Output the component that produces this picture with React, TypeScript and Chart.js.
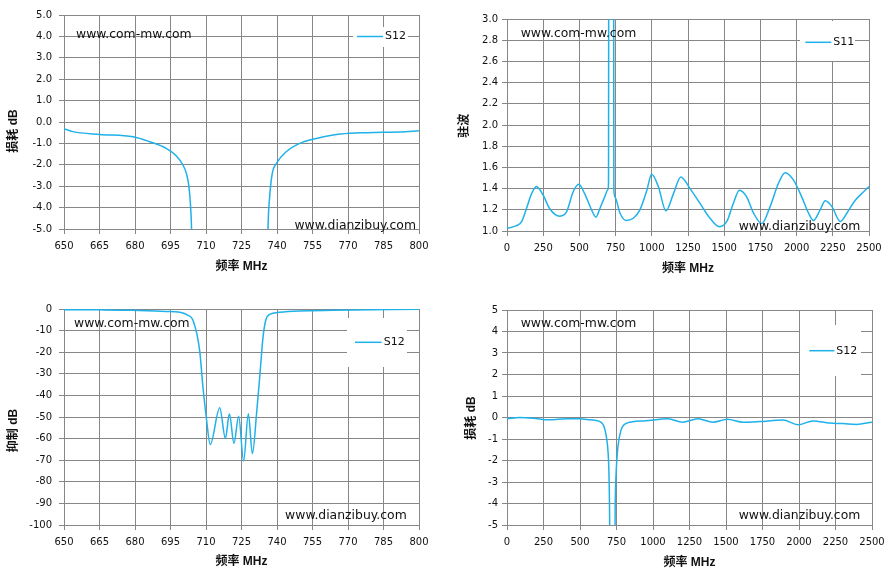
import React, { useRef, useEffect } from 'react';
import { Chart, registerables } from 'chart.js';

Chart.register(...registerables);

const FONT = '"DejaVu Sans", "Noto Sans CJK SC", sans-serif';
const TITLE_FONT = '"Liberation Sans", "Noto Sans CJK SC", sans-serif';
const LINE = '#1fb1ea';
const GRID = '#878787';
const INK = '#111';

const SITE_A = 'www.com-mw.com';
const SITE_B = 'www.dianzibuy.com';
const X_TITLE = '频率 MHz';

// top left: passband loss, 650-800 MHz (values past -5 run off the axis)
const lossFreq = [650, 653.8, 665.1, 679.2, 686.2, 693.2, 697.5, 700.3, 701.7, 702.8, 703.5, 703.9, 704.3,
  735.8, 736.2, 736.9, 738.0, 739.7, 743.9, 749.6, 756.6, 763.7, 770.7, 777.7, 784.8, 791.8, 800];
const lossDb = [-0.31, -0.45, -0.58, -0.69, -0.92, -1.23, -1.59, -2.02, -2.4, -3.03, -3.97, -5.03, -8,
  -8, -5.0, -3.5, -2.4, -1.94, -1.39, -1.0, -0.77, -0.61, -0.53, -0.5, -0.48, -0.47, -0.41];

// top right: VSWR, 0-2500 MHz (spike past 3.0 around the stop band)
const vswrFreq = [0, 65, 100, 134, 169, 203, 249, 295, 365, 411, 457, 496, 537, 584, 614, 641, 674, 697, 701, 703,
  736, 738, 745, 780, 821, 872, 918, 965, 999, 1045, 1098, 1149, 1200, 1264, 1333, 1402, 1467, 1518, 1563, 1605,
  1656, 1702, 1760, 1817, 1875, 1921, 1979, 2036, 2082, 2117, 2163, 2198, 2244, 2302, 2348, 2405, 2463, 2500];
const vswr = [1.025, 1.05, 1.087, 1.21, 1.35, 1.42, 1.34, 1.21, 1.14, 1.18, 1.37, 1.44, 1.35, 1.2, 1.13, 1.21, 1.32, 1.39, 1.45, 4,
  4, 1.4, 1.32, 1.17, 1.1, 1.12, 1.2, 1.38, 1.535, 1.42, 1.19, 1.35, 1.51, 1.4, 1.26, 1.12, 1.04, 1.09, 1.26, 1.385,
  1.32, 1.17, 1.07, 1.23, 1.45, 1.55, 1.48, 1.32, 1.17, 1.1, 1.2, 1.285, 1.23, 1.09, 1.17, 1.29, 1.37, 1.42];

// bottom left: rejection, 650-800 MHz
const rejFreq = [650, 665, 679, 693, 699, 702.4, 704.5, 707.3, 708.7, 710.1, 711.8, 715.8, 718.2, 719.9,
  721.8, 723.8, 725.9, 727.9, 729.6, 731.4, 732.7, 734.1, 735.3, 736.9, 741.1, 749.6, 763.7, 800];
const rejDb = [-0.3, -0.4, -0.6, -1.1, -1.5, -2.9, -5.2, -19, -36, -50, -62.7, -45.7, -59.9, -48.5,
  -62.3, -49.7, -70.4, -48.5, -67, -48, -31.5, -13, -5, -2.5, -1.5, -0.9, -0.6, -0.15];

// bottom right: wideband loss, 0-2500 MHz
const thruFreq = [0, 87, 178, 292, 407, 498, 566, 630, 648, 662, 672, 682, 691, 698, 702, 705.5, 738, 741, 746, 752, 760,
  780, 800, 830, 859, 950, 1103, 1201, 1308, 1411, 1509, 1617, 1731, 1890, 1993, 2096, 2210, 2301, 2393, 2500];
const thruDb = [-0.06, 0, -0.03, -0.11, -0.06, -0.06, -0.11, -0.17, -0.24, -0.38, -0.6, -0.95, -1.5, -2.5, -4, -7, -7, -4.2, -2.8, -2.0, -1.35,
  -0.6, -0.35, -0.24, -0.2, -0.15, -0.06, -0.22, -0.06, -0.22, -0.08, -0.22, -0.19, -0.12, -0.34, -0.16, -0.26, -0.28, -0.32, -0.22];

interface Spec {
  left: number; top: number; width: number; height: number;
  freq: number[]; values: number[]; name: string;
  xMin: number; xMax: number; xStep: number;
  yMin: number; yMax: number; yStep: number; decimals: number;
  yTitle: string;
  padTop: number; padRight: number; yWidth: number; xHeight: number;
  yTickPad: number; xTitlePad: number;
  yTitleAt: [number, number];
  siteA: [number, number]; siteB: [number, number];
  box: [number, number, number, number];
  key: [number, number, number];
}

const panels: Spec[] = [
  {
    left: 0, top: 0, width: 448, height: 290,
    freq: lossFreq, values: lossDb, name: 'S12',
    xMin: 650, xMax: 800, xStep: 15, yMin: -5, yMax: 5, yStep: 1, decimals: 1,
    yTitle: '损耗 dB',
    padTop: 15, padRight: 29, yWidth: 64, xHeight: 61,
    yTickPad: 7, xTitlePad: 16,
    yTitleAt: [13.5, 131],
    siteA: [76, 38], siteB: [416, 229],
    box: [353, 27, 55, 20], key: [357, 383, 36.5],
  },
  {
    left: 448, top: 0, width: 448, height: 290,
    freq: vswrFreq, values: vswr, name: 'S11',
    xMin: 0, xMax: 2500, xStep: 250, yMin: 1, yMax: 3, yStep: 0.2, decimals: 1,
    yTitle: '驻波',
    padTop: 19, padRight: 27, yWidth: 59, xHeight: 59,
    yTickPad: 4, xTitlePad: 14,
    yTitleAt: [16.7, 125.7],
    siteA: [72.7, 37.3], siteB: [412.3, 229.5],
    box: [352, 21, 55, 40], key: [357.3, 383.3, 42.3],
  },
  {
    left: 0, top: 290, width: 448, height: 291,
    freq: rejFreq, values: rejDb, name: 'S12',
    xMin: 650, xMax: 800, xStep: 15, yMin: -100, yMax: 0, yStep: 10, decimals: 0,
    yTitle: '抑制 dB',
    padTop: 19, padRight: 29, yWidth: 64, xHeight: 56,
    yTickPad: 7, xTitlePad: 12,
    yTitleAt: [14, 140.5],
    siteA: [74, 36.7], siteB: [406.7, 229.3],
    box: [347, 28, 60, 49], key: [355, 381.7, 52.3],
  },
  {
    left: 448, top: 290, width: 448, height: 291,
    freq: thruFreq, values: thruDb, name: 'S12',
    xMin: 0, xMax: 2500, xStep: 250, yMin: -5, yMax: 5, yStep: 1, decimals: 0,
    yTitle: '损耗 dB',
    padTop: 20, padRight: 24, yWidth: 59, xHeight: 56,
    yTickPad: 4, xTitlePad: 11,
    yTitleAt: [23.3, 128],
    siteA: [72.7, 37.3], siteB: [412.3, 229.3],
    box: [352, 35, 61, 51], key: [361.3, 386.3, 60.7],
  },
];

// y title, watermarks and the Excel-style legend box drawn over the plot
function decor(s: Spec) {
  return {
    id: 'decor',
    afterDraw(chart: Chart) {
      const ctx = chart.ctx;
      ctx.save();
      ctx.translate(s.yTitleAt[0], s.yTitleAt[1]);
      ctx.rotate(-Math.PI / 2);
      ctx.font = `bold 12px ${TITLE_FONT}`;
      ctx.fillStyle = INK;
      ctx.textAlign = 'center';
      ctx.textBaseline = 'middle';
      ctx.fillText(s.yTitle, 0, 0);
      ctx.restore();

      ctx.save();
      ctx.font = `12.4px ${FONT}`;
      ctx.fillStyle = INK;
      ctx.textBaseline = 'alphabetic';
      ctx.textAlign = 'left';
      ctx.fillText(SITE_A, s.siteA[0], s.siteA[1]);
      ctx.textAlign = 'right';
      ctx.fillText(SITE_B, s.siteB[0], s.siteB[1]);

      const [bx, by, bw, bh] = s.box;
      ctx.fillStyle = '#fff';
      ctx.fillRect(bx, by, bw, bh);
      const [x0, x1, ky] = s.key;
      ctx.strokeStyle = LINE;
      ctx.lineWidth = 1.5;
      ctx.beginPath();
      ctx.moveTo(x0, ky);
      ctx.lineTo(x1, ky);
      ctx.stroke();
      ctx.font = `11px ${FONT}`;
      ctx.fillStyle = INK;
      ctx.textAlign = 'left';
      ctx.textBaseline = 'middle';
      ctx.fillText(s.name, x1 + 2, ky);
      ctx.restore();
    },
  };
}

function Panel({ spec }: { spec: Spec }) {
  const canvasRef = useRef<HTMLCanvasElement>(null);

  useEffect(() => {
    const canvas = canvasRef.current;
    if (!canvas) return;
    const s = spec;
    const tickFont = { family: FONT, size: 10 };
    const titleFont = { family: TITLE_FONT, size: 12, weight: 'bold' as const };

    const chart = new Chart(canvas, {
      type: 'line',
      data: {
        datasets: [{
          label: s.name,
          data: s.freq.map((f, i) => ({ x: f, y: s.values[i] })),
          borderColor: LINE,
          borderWidth: 1.5,
          pointRadius: 0,
          fill: false,
          cubicInterpolationMode: 'monotone',
        }],
      },
      options: {
        animation: false,
        responsive: true,
        maintainAspectRatio: false,
        layout: { padding: { left: 0, top: s.padTop, right: s.padRight, bottom: 0 } },
        plugins: { legend: { display: false }, tooltip: { enabled: false } },
        scales: {
          x: {
            type: 'linear',
            min: s.xMin,
            max: s.xMax,
            afterFit: (sc: any) => { sc.height = s.xHeight; },
            ticks: {
              stepSize: s.xStep, autoSkip: false, maxRotation: 0, padding: 6,
              color: INK, font: tickFont,
              callback: v => String(v),
            },
            grid: { color: GRID, tickLength: 5 },
            border: { color: GRID },
            title: {
              display: true, text: X_TITLE, color: INK, font: titleFont,
              padding: { top: 0, bottom: s.xTitlePad },
            },
          },
          y: {
            min: s.yMin,
            max: s.yMax,
            afterFit: (sc: any) => { sc.width = s.yWidth; },
            ticks: {
              stepSize: s.yStep, autoSkip: false, padding: s.yTickPad,
              color: INK, font: tickFont,
              callback: v => Number(v).toFixed(s.decimals),
            },
            grid: { color: GRID, tickLength: 5 },
            border: { color: GRID },
          },
        },
      },
      plugins: [decor(s)],
    });

    return () => chart.destroy();
  }, [spec]);

  return (
    <div style={{ position: 'absolute', left: spec.left, top: spec.top, width: spec.width, height: spec.height }}>
      <canvas ref={canvasRef} />
    </div>
  );
}

export default function App() {
  return (
    <div style={{ position: 'absolute', left: 0, top: 0, width: 896, height: 581, background: '#fff' }}>
      {panels.map((p, i) => <Panel key={i} spec={p} />)}
    </div>
  );
}
